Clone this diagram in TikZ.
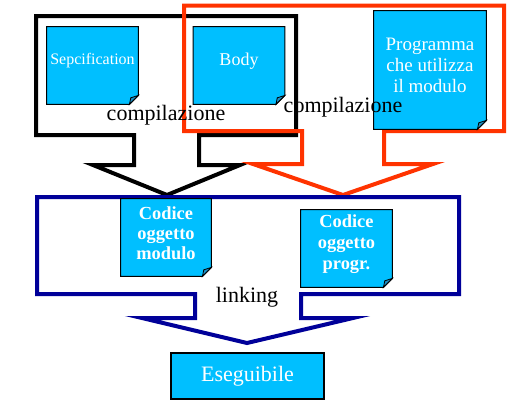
\documentclass[tikz,border=0pt]{standalone}
\usepackage{fontspec}
\setmainfont{Liberation Serif}
\usetikzlibrary{backgrounds}
\definecolor{noteCyan}{HTML}{00BFFF}
\definecolor{noteFold}{HTML}{1C8FC4}
\definecolor{compRed}{HTML}{FF3300}
\definecolor{linkNavy}{HTML}{000099}
\pgfdeclarelayer{flow}
\pgfsetlayers{flow,background,main}

\begin{document}
\begin{tikzpicture}[x=0.5pt, y=-0.5pt,
    blockarrow/.style={line width=2pt, line join=miter},
    note/.style={inner sep=0pt, align=center, text=white,
                 minimum width=45.5pt, minimum height=34pt},
    phasetext/.style={font=\fontsize{11}{12}\selectfont}]
  \useasboundingbox (0,0) rectangle (526,408);

  % documenti
  \node[note, font=\fontsize{8}{9}\selectfont] (spec) at (92.5,61) {Sepcification};
  \node[note, font=\fontsize{9}{10}\selectfont] (body) at (239,61) {Body};
  \node[note, minimum width=56pt, minimum height=54.5pt,
        font=\fontsize{9.5}{10.5}\selectfont] (prog) at (430,65.5) {Programma\\che utilizza\\il modulo};
  \node[note, minimum width=45pt, font=\bfseries\fontsize{9.2}{10}\selectfont] (objmod) at (166,233) {Codice\\oggetto\\modulo};
  \node[note, font=\bfseries\fontsize{9.2}{10.5}\selectfont] (objprog) at (346.5,244) {Codice\\oggetto\\progr.};
  \node[fill=noteCyan, draw=black, line width=0.6pt, text=white, minimum width=76.5pt,
        minimum height=23pt, inner sep=0pt, font=\fontsize{11}{12}\selectfont] (exe) at (247.5,376) {Eseguibile};

  % fasi
  \node[phasetext] (comp1) at (166,115) {compilazione};
  \node[phasetext] (comp2) at (343,107) {compilazione};
  \node[phasetext] (link) at (247,297) {linking};

  \begin{pgfonlayer}{flow}
    \draw[blockarrow, black] (36,16) -- (296,16) -- (296,135) -- (199,135) -- (199,165)
      -- (240,165) -- (167,195) -- (93,165) -- (134,165) -- (134,135) -- (36,135) -- cycle;
    \draw[blockarrow, compRed] (184,5.5) -- (504,5.5) -- (504,131) -- (384,131) -- (384,164)
      -- (433,164) -- (343,195) -- (253,164) -- (302,164) -- (302,131) -- (184,131) -- cycle;
    \draw[blockarrow, linkNavy] (37,197) -- (459,197) -- (459,294) -- (301,294) -- (301,318)
      -- (353,318) -- (247,343) -- (142,318) -- (195,318) -- (195,294) -- (37,294) -- cycle;
  \end{pgfonlayer}

  \begin{scope}[on background layer]
    \foreach \n in {spec, body, prog, objmod, objprog} {
      \filldraw[fill=noteCyan, draw=black, line width=0.5pt] (\n.north west) -- (\n.north east)
        -- (\n.south east) -- ([xshift=-4.5pt, yshift=-4.5pt]\n.south east)
        -- ([yshift=-4.5pt]\n.south west) -- cycle;
      \filldraw[fill=noteFold, draw=black, line width=0.4pt] (\n.south east)
        -- ([xshift=-3.8pt, yshift=-1.2pt]\n.south east)
        -- ([xshift=-4.5pt, yshift=-4.5pt]\n.south east) -- cycle;
    }
  \end{scope}
\end{tikzpicture}
\end{document}
